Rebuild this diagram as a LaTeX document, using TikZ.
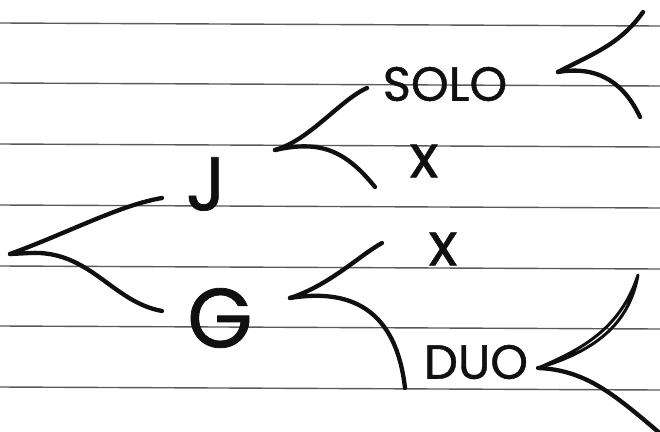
\documentclass[tikz,border=0pt]{standalone}
\usepackage{fontspec}
\setmainfont{Poppins}[FakeBold=0.9]
\usepackage{tikz}
\usetikzlibrary{arrows.meta,positioning,calc}
\definecolor{ink}{HTML}{101010}
\definecolor{rule}{HTML}{5A5A5A}

\begin{document}
\begin{tikzpicture}[x=1pt,y=-1pt,line cap=round,line join=round]
\tikzset{pen/.style={draw=ink,line width=4.3pt}, ruling/.style={draw=rule,line width=1.4pt}, word/.style={text=ink,inner sep=0pt}}
\useasboundingbox[fill=white] (0,0) rectangle (660,431);
% ruled paper
\foreach \y in {23,83,144,205,266,326,387} \draw[ruling] (0,\y) -- (660,\y+3);
% words
\node[word,font=\fontsize{76}{76}\selectfont] (J) at (206,184) {J};
\node[word,font=\fontsize{84}{84}\selectfont] (G) at (220,318) {G};
\node[word,font=\fontsize{48}{48}\selectfont] (solo) at (445,84) {SOLO};
\node[word,font=\fontsize{60}{60}\selectfont] (xj) at (424,161) {x};
\node[word,font=\fontsize{60}{60}\selectfont] (xg) at (443,249) {x};
\node[word,font=\fontsize{48}{48}\selectfont] (duo) at (476,362) {DUO};
% brace tips
\coordinate (rootTip) at (10,254);
\coordinate (jTip) at (275,150);
\coordinate (gTip) at (290,298);
\coordinate (soloTip) at (558,72);
\coordinate (duoTip) at (538,368);
% free arm ends
\coordinate (soloUp) at (643,12); \coordinate (soloDown) at (640,117);
\coordinate (duoUp) at (638,275); \coordinate (duoDown) at (668,440);
% root
\draw[pen] (rootTip) .. controls (70,232) and (120,205) .. (162,198);
\draw[pen] (rootTip) -- (30,253) .. controls (90,250) and (112,302) .. (162,311);
% J and G
\draw[pen] (jTip) .. controls (310,140) and (340,100) .. (367,88);
\draw[pen] (jTip) .. controls (320,140) and (345,150) .. (375,187);
\draw[pen] (gTip) .. controls (330,285) and (360,255) .. (382,243);
\draw[pen] (gTip) .. controls (340,290) and (395,300) .. (405,388);
% solo and duo
\draw[pen] (soloTip) .. controls (590,55) and (620,45) .. (soloUp);
\draw[pen] (soloTip) .. controls (600,65) and (625,85) .. (soloDown);
\draw[pen,line width=3pt] (duoTip) .. controls (580,350) and (620,330) .. (duoUp) .. controls (630,320) and (600,350) .. (duoTip);
\draw[pen] (duoTip) .. controls (590,370) and (620,400) .. (duoDown);
\end{tikzpicture}
\end{document}
